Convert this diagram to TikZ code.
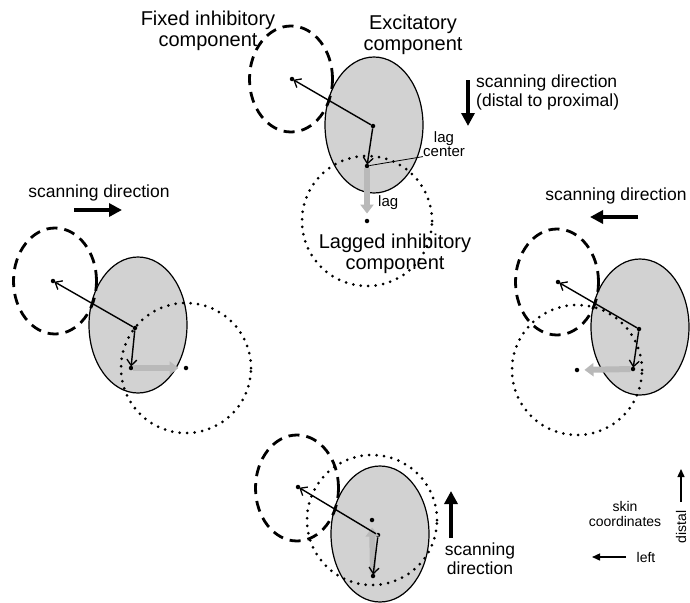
\documentclass[tikz,border=0pt]{standalone}
\usepackage{fontspec}
\setmainfont{Liberation Sans}
\usetikzlibrary{shapes.geometric,arrows.meta}
\begin{document}
\begin{tikzpicture}[x=1pt,y=-1pt,
  exc/.style={ellipse, draw, line width=1.2pt, fill=gray!35, minimum width=98pt, minimum height=136pt, inner sep=0pt},
  fixinh/.style={ellipse, draw, dash pattern=on 11pt off 7pt, line width=2.8pt, minimum width=83pt, minimum height=106pt, inner sep=0pt},
  laginh/.style={circle, draw, line width=3pt, dash pattern=on 0pt off 7.5pt, line cap=round, minimum size=130pt, inner sep=0pt},
  dot/.style={circle, fill, inner sep=0pt, minimum size=4.5pt},
  vec/.style={-{Straight Barb[length=6pt,width=10pt,line width=1.3pt]}, line width=1.4pt, shorten >=-1pt},
  lagarrow/.style={-{Triangle[length=9pt,width=13pt]}, line width=6pt, draw=gray!55, shorten >=5pt},
  scan/.style={-{Triangle[length=13pt,width=13pt]}, line width=4pt},
  axis/.style={-{Triangle[length=8pt,width=7pt]}, line width=1.4pt},
  big/.style={font=\fontsize{20}{21}\selectfont, align=center, inner sep=0pt},
  mid/.style={font=\fontsize{17.5}{19}\selectfont, inner sep=0pt},
  small/.style={font=\fontsize{15}{11}\selectfont, inner sep=0pt},
  tiny/.style={font=\fontsize{14}{14.5}\selectfont, inner sep=0pt, align=center}]
\useasboundingbox (0,0) rectangle (690,602);

% ---------- excitatory ellipses ----------
\node[exc] (tE) at (374,125) {};
\node[exc] (lE) at (138,325) {};
\node[exc] (rE) at (640,327) {};
\node[exc] (bE) at (380,534) {};

% ---------- fixed inhibitory (dashed) ----------
\node[fixinh] (tF) at (291,79) {};
\node[fixinh] (lF) at (55,281) {};
\node[fixinh] (rF) at (557,282) {};
\node[fixinh] (bF) at (297,488) {};

% ---------- lagged inhibitory (dotted) ----------
\node[laginh] (tG) at (367,221) {};
\node[laginh] (lG) at (186,368) {};
\node[laginh] (rG) at (577,370) {};
\node[laginh] (bG) at (372,520) {};

% ---------- dots ----------
\node[dot] (tc) at (373,126) {};
\node[dot] (tf) at (292,79) {};
\node[dot] (tl) at (367,166) {};
\node[dot] (tg) at (367,221) {};

\node[dot] (lc) at (135,328) {};
\node[dot] (lf) at (53,281) {};
\node[dot] (ll) at (131,368) {};
\node[dot] (lg) at (186,368) {};

\node[dot] (rc) at (639,329) {};
\node[dot] (rf) at (558,282) {};
\node[dot] (rl) at (633,369) {};
\node[dot] (rg) at (577,370) {};

\node[dot] (bc) at (378,535) {};
\node[dot] (bf) at (298,487) {};
\node[dot] (bl) at (373,576) {};
\node[dot] (bg) at (372,520) {};

% ---------- lag arrows (gray) ----------
\draw[lagarrow] (tl) -- (tg);
\draw[lagarrow] (ll) -- (lg);
\draw[lagarrow] (rl) -- (rg);
\draw[lagarrow] (bl) -- (bg);

% ---------- vectors ----------
\draw[vec] (tc) -- (tf);
\draw[vec] (tc) -- (tl);
\draw[vec] (lc) -- (lf);
\draw[vec] (lc) -- (ll);
\draw[vec] (rc) -- (rf);
\draw[vec] (rc) -- (rl);
\draw[vec] (bc) -- (bf);
\draw[vec] (bc) -- (bl);

% ---------- labels, top group ----------
\node[big] (fixlab) at (208,31) {Fixed inhibitory\\component};
\node[big] (exclab) at (413,35) {Excitatory\\component};
\node[big] (laglab) at (395,254) {Lagged inhibitory\\component};
\node[small, align=center] (lcl) at (444,144) {lag\\center};
\draw[line width=0.8pt] (lcl.south west) -- (tl);
\node[small, anchor=west] (lagl) at (378,203) {lag};
\node[mid, anchor=west, align=left] (tscan) at (476,92) {scanning direction\\(distal to proximal)};
\coordinate (ta1) at (468,80);
\coordinate (ta2) at (468,126);
\draw[scan] (ta1) -- (ta2);

% ---------- left group ----------
\node[mid] (lscan) at (99,193) {scanning direction};
\coordinate (la1) at (74,210);
\coordinate (la2) at (122,210);
\draw[scan] (la1) -- (la2);

% ---------- right group ----------
\node[mid] (rscan) at (616,196) {scanning direction};
\coordinate (ra1) at (638,217);
\coordinate (ra2) at (590,217);
\draw[scan] (ra1) -- (ra2);

% ---------- bottom group ----------
\coordinate (ba1) at (451,538);
\coordinate (ba2) at (451,491);
\draw[scan] (ba1) -- (ba2);
\node[mid, align=center] (bscan) at (480,559) {scanning\\direction};

% ---------- skin coordinates ----------
\node[tiny] (skin) at (625,514) {skin\\coordinates};
\node[tiny] (leftl) at (646,557) {left};
\coordinate (lx1) at (626,557);
\coordinate (lx2) at (592,557);
\draw[axis] (lx1) -- (lx2);
\node[tiny, rotate=90] (distl) at (681,527) {distal};
\coordinate (dx1) at (681,502);
\coordinate (dx2) at (681,469);
\draw[axis] (dx1) -- (dx2);
\end{tikzpicture}
\end{document}
